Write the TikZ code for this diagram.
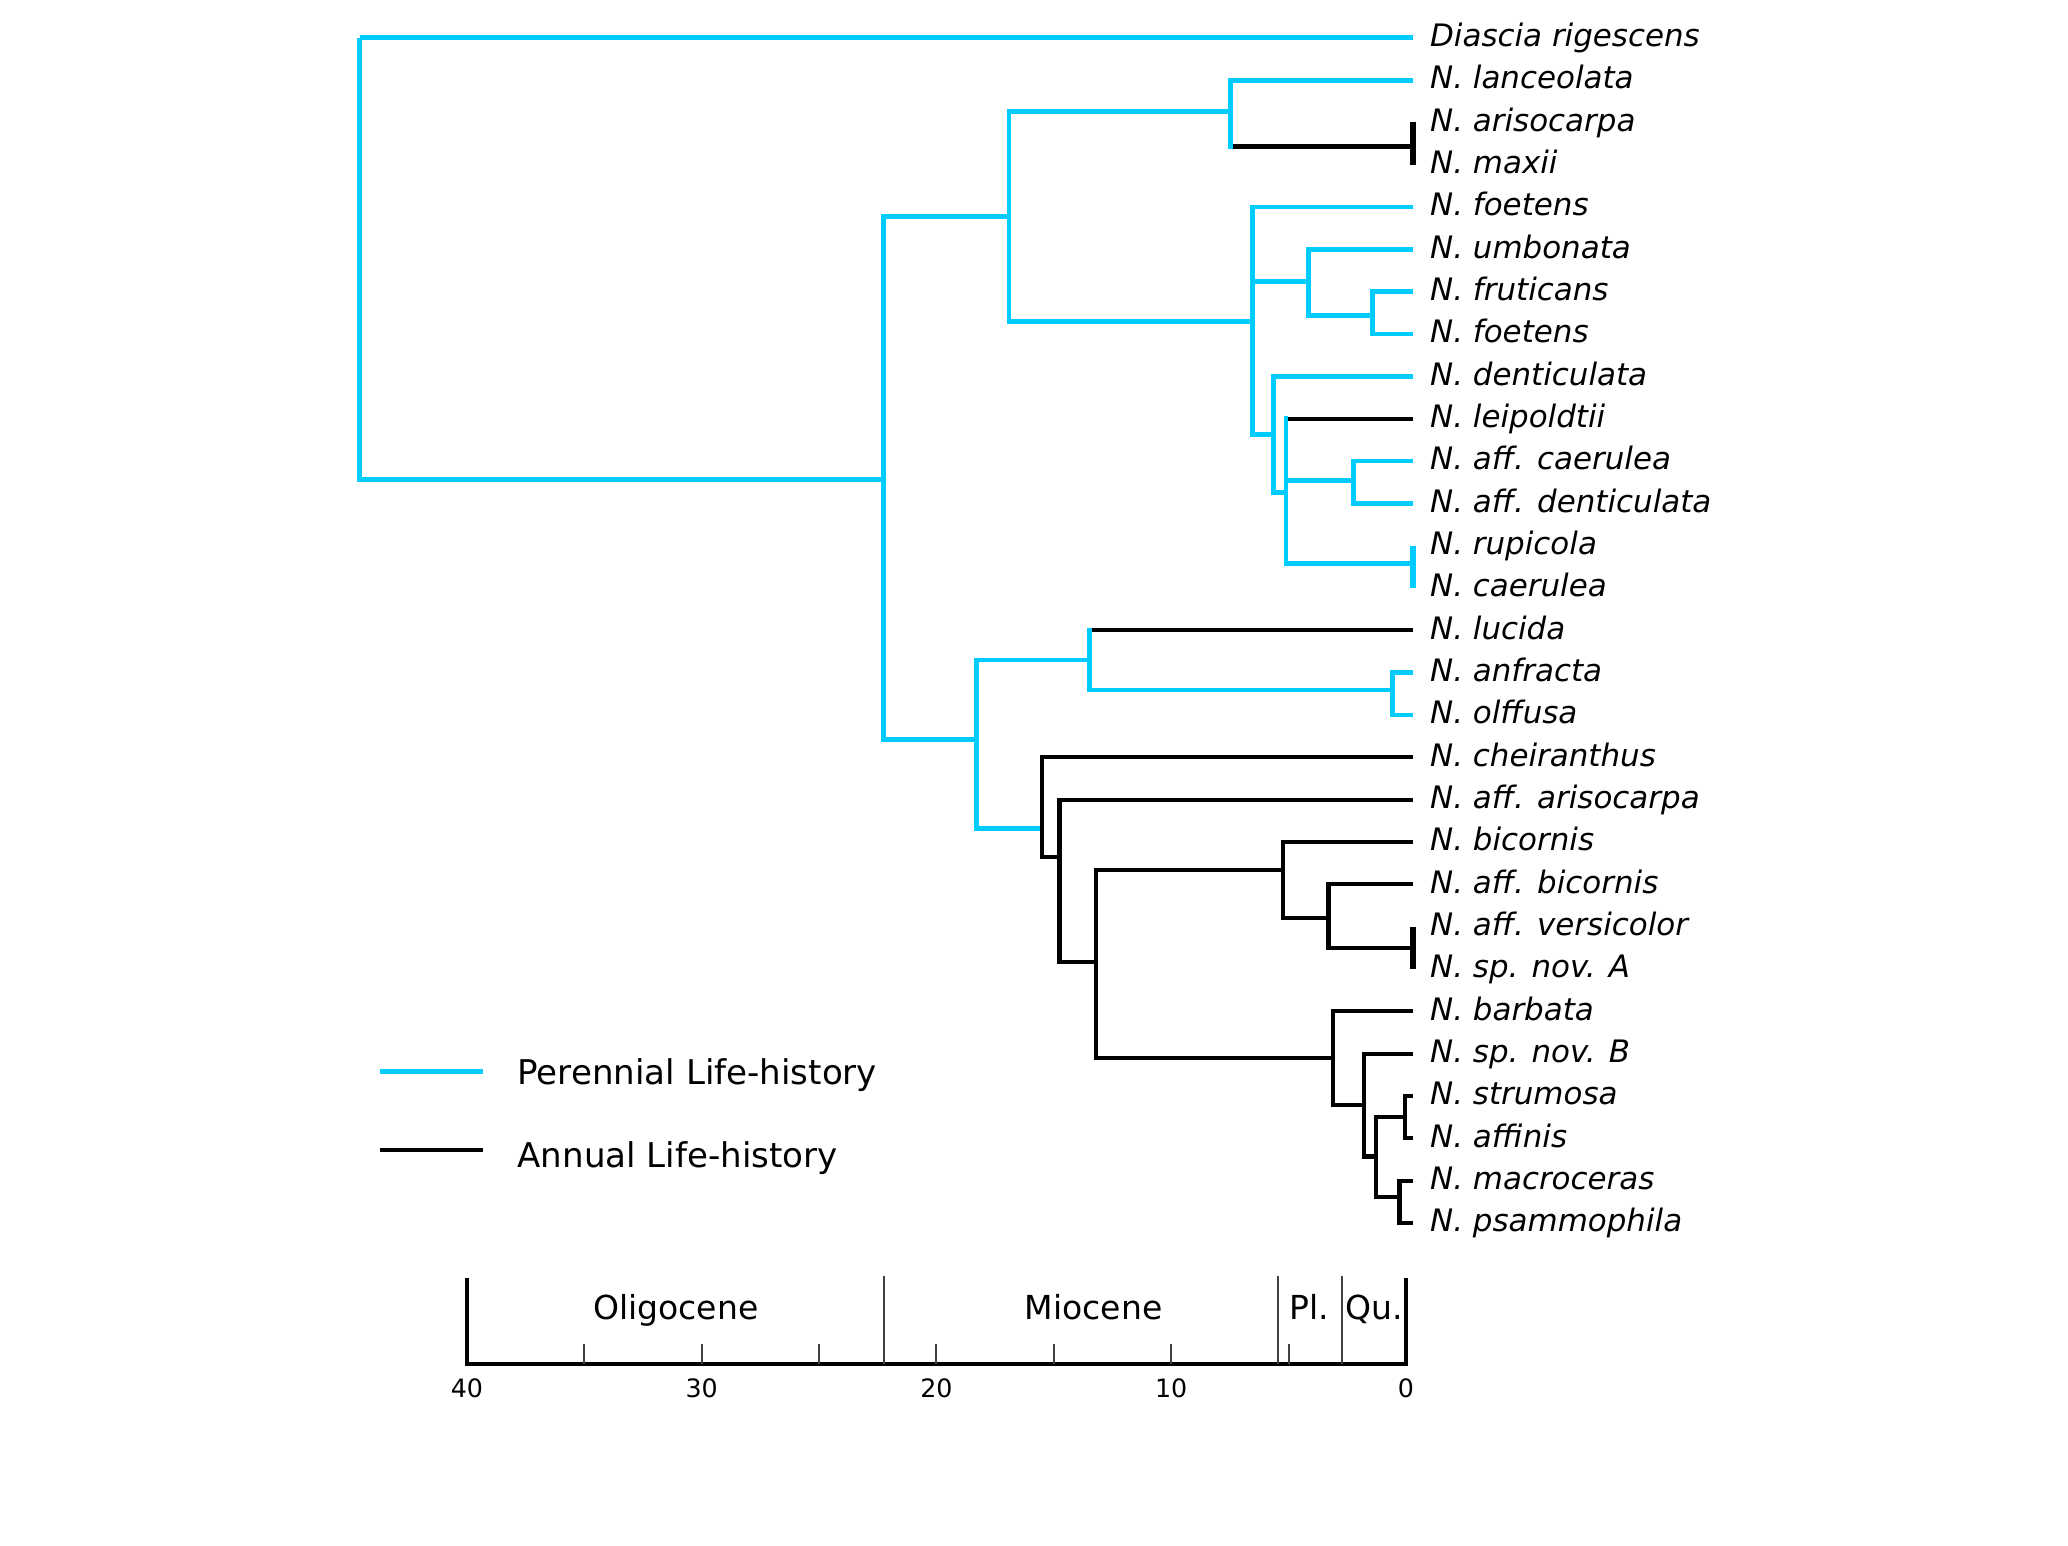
\documentclass[tikz,border=0pt]{standalone}
\usepackage{fontspec}
\setmainfont{DejaVu Sans}
\definecolor{perblue}{RGB}{0,204,255}

\begin{document}
\begin{tikzpicture}[x=0.23475cm, y=-0.4233cm,
  peren/.style={draw=perblue, line width=1.4pt},
  annual/.style={draw=black, line width=1.2pt},
  tipbar/.style={line width=1.5pt},
  taxon/.style={anchor=base west, inner sep=0pt, yshift=-2.5pt, font=\fontsize{8.8}{10}\selectfont\itshape},
  epoch/.style={anchor=base, inner sep=0pt, font=\fontsize{9.4}{11}\selectfont},
  agenum/.style={inner sep=0pt, font=\fontsize{7.2}{9}\selectfont},
  legtext/.style={anchor=base west, inner sep=0pt, font=\fontsize{9.7}{12}\selectfont},
  thinline/.style={draw=black!75, line width=0.6pt},
  axisline/.style={draw=black, line width=1.15pt}]
\useasboundingbox (-59.89,-0.891) rectangle (28.20,35.61);

% taxa (one row each, age 0 at x=0)
\node[taxon] (t0) at (1,0) {Diascia rigescens};     \coordinate (e0) at (0.3,0);
\node[taxon] (t1) at (1,1) {N. lanceolata};         \coordinate (e1) at (0.3,1);
\node[taxon] (t2) at (1,2) {N. arisocarpa};         \coordinate (e2) at (0.3,2);
\node[taxon] (t3) at (1,3) {N. maxii};              \coordinate (e3) at (0.3,3);
\node[taxon] (t4) at (1,4) {N. foetens};            \coordinate (e4) at (0.3,4);
\node[taxon] (t5) at (1,5) {N. umbonata};           \coordinate (e5) at (0.3,5);
\node[taxon] (t6) at (1,6) {N. fruticans};          \coordinate (e6) at (0.3,6);
\node[taxon] (t7) at (1,7) {N. foetens};            \coordinate (e7) at (0.3,7);
\node[taxon] (t8) at (1,8) {N. denticulata};        \coordinate (e8) at (0.3,8);
\node[taxon] (t9) at (1,9) {N. leipoldtii};         \coordinate (e9) at (0.3,9);
\node[taxon] (t10) at (1,10) {N. aff. caerulea};    \coordinate (e10) at (0.3,10);
\node[taxon] (t11) at (1,11) {N. aff. denticulata}; \coordinate (e11) at (0.3,11);
\node[taxon] (t12) at (1,12) {N. rupicola};         \coordinate (e12) at (0.3,12);
\node[taxon] (t13) at (1,13) {N. caerulea};         \coordinate (e13) at (0.3,13);
\node[taxon] (t14) at (1,14) {N. lucida};           \coordinate (e14) at (0.3,14);
\node[taxon] (t15) at (1,15) {N. anfracta};         \coordinate (e15) at (0.3,15);
\node[taxon] (t16) at (1,16) {N. olffusa};          \coordinate (e16) at (0.3,16);
\node[taxon] (t17) at (1,17) {N. cheiranthus};      \coordinate (e17) at (0.3,17);
\node[taxon] (t18) at (1,18) {N. aff. arisocarpa};  \coordinate (e18) at (0.3,18);
\node[taxon] (t19) at (1,19) {N. bicornis};         \coordinate (e19) at (0.3,19);
\node[taxon] (t20) at (1,20) {N. aff. bicornis};    \coordinate (e20) at (0.3,20);
\node[taxon] (t21) at (1,21) {N. aff. versicolor};  \coordinate (e21) at (0.3,21);
\node[taxon] (t22) at (1,22) {N. sp. nov. A};       \coordinate (e22) at (0.3,22);
\node[taxon] (t23) at (1,23) {N. barbata};          \coordinate (e23) at (0.3,23);
\node[taxon] (t24) at (1,24) {N. sp. nov. B};       \coordinate (e24) at (0.3,24);
\node[taxon] (t25) at (1,25) {N. strumosa};         \coordinate (e25) at (0.3,25);
\node[taxon] (t26) at (1,26) {N. affinis};          \coordinate (e26) at (0.3,26);
\node[taxon] (t27) at (1,27) {N. macroceras};       \coordinate (e27) at (0.3,27);
\node[taxon] (t28) at (1,28) {N. psammophila};      \coordinate (e28) at (0.3,28);

% split points (x = minus age in Ma)
\coordinate (root) at (-44.57,0);
\coordinate (ingr) at (-22.24,10.43);
\coordinate (up) at (-16.91,4.23);
\coordinate (lanc) at (-7.49,1.75);
\coordinate (ari) at (0.3,2.57);
\coordinate (foet) at (-6.53,6.71);
\coordinate (umb) at (-4.16,5.75);
\coordinate (frut) at (-1.43,6.57);
\coordinate (dent) at (-5.65,9.37);
\coordinate (leip) at (-5.11,10.75);
\coordinate (affc) at (-2.25,10.45);
\coordinate (rupi) at (0.3,12.43);
\coordinate (low) at (-18.31,16.57);
\coordinate (luc) at (-13.49,14.70);
\coordinate (anf) at (-0.56,15.41);
\coordinate (ann) at (-15.51,18.68);
\coordinate (affa) at (-14.76,19.36);
\coordinate (bicz) at (-13.21,21.83);
\coordinate (bic) at (-5.25,19.66);
\coordinate (affb) at (-3.30,20.79);
\coordinate (vers) at (0.3,21.51);
\coordinate (barb) at (-3.12,24.10);
\coordinate (spb) at (-1.78,25.21);
\coordinate (strz) at (-1.29,26.43);
\coordinate (strum) at (-0.05,25.49);
\coordinate (macro) at (-0.28,27.38);

% root and ingroup
\draw[peren] (root) -- (e0);
\draw[peren] (root) |- (ingr);
\draw[peren] (ingr) |- (up);
\draw[peren] (ingr) |- (low);
% upper (perennial) clade
\draw[peren] (up) |- (lanc);
\draw[peren] (up) |- (foet);
\draw[peren] (lanc) |- (e1);
\draw[annual] (lanc |- ari) -- (ari);
\draw[peren] (lanc) -- ([yshift=-0.7pt]lanc |- ari);
\draw[annual,tipbar] (e2) -- (e3);
\draw[peren] (foet) |- (e4);
\draw[peren] (foet) |- (umb);
\draw[peren] (foet) |- (dent);
\draw[peren] (umb) |- (e5);
\draw[peren] (umb) |- (frut);
\draw[peren] (frut) |- (e6);
\draw[peren] (frut) |- (e7);
\draw[peren] (dent) |- (e8);
\draw[peren] (dent) |- (leip);
\draw[annual] (leip |- e9) -- (e9);
\draw[peren] (leip) |- (affc);
\draw[peren] (leip) |- (rupi);
\draw[peren] (leip) -- ([yshift=0.7pt]leip |- e9);
\draw[peren] (affc) |- (e10);
\draw[peren] (affc) |- (e11);
\draw[peren,tipbar] (e12) -- (e13);
% lower clade
\draw[peren] (low) |- (luc);
\draw[peren] (low) |- (ann);
\draw[annual] (luc |- e14) -- (e14);
\draw[peren] (luc) |- (anf);
\draw[peren] (luc) -- ([yshift=0.7pt]luc |- e14);
\draw[peren] (anf) |- (e15);
\draw[peren] (anf) |- (e16);
% annual clade
\draw[annual] (ann) |- (e17);
\draw[annual] (ann) |- (affa);
\draw[annual] (affa) |- (e18);
\draw[annual] (affa) |- (bicz);
\draw[annual] (bicz) |- (bic);
\draw[annual] (bicz) |- (barb);
\draw[annual] (bic) |- (e19);
\draw[annual] (bic) |- (affb);
\draw[annual] (affb) |- (e20);
\draw[annual] (affb) |- (vers);
\draw[annual,tipbar] (e21) -- (e22);
\draw[annual] (barb) |- (e23);
\draw[annual] (barb) |- (spb);
\draw[annual] (spb) |- (e24);
\draw[annual] (spb) |- (strz);
\draw[annual] (strz) |- (strum);
\draw[annual] (strz) |- (macro);
\draw[annual] (strum) |- (e25);
\draw[annual] (strum) |- (e26);
\draw[annual] (macro) |- (e27);
\draw[annual] (macro) |- (e28);

% legend
\coordinate (kp1) at (-43.72,24.43); \coordinate (kp2) at (-39.31,24.43);
\coordinate (ka1) at (-43.72,26.28); \coordinate (ka2) at (-39.31,26.28);
\draw[peren] (kp1) -- (kp2);
\draw[annual] (ka1) -- (ka2);
\node[legtext] (kper) at (-37.87,24.74) {Perennial Life-history};
\node[legtext] (kann) at (-37.87,26.69) {Annual Life-history};

% time scale
\coordinate (s40) at (-40,31.33); \coordinate (s0) at (0,31.33);
\draw[axisline] (-40,29.30) -- (s40) -- (s0) -- (0,29.30);
\draw[thinline] (-22.23,29.25) -- (-22.23,31.33);
\draw[thinline] (-5.45,29.25) -- (-5.45,31.33);
\draw[thinline] (-2.72,29.25) -- (-2.72,31.33);
\draw[thinline] (-35,30.86) -- (-35,31.33);
\draw[thinline] (-30,30.86) -- (-30,31.33);
\draw[thinline] (-25,30.86) -- (-25,31.33);
\draw[thinline] (-20,30.86) -- (-20,31.33);
\draw[thinline] (-15,30.86) -- (-15,31.33);
\draw[thinline] (-10,30.86) -- (-10,31.33);
\draw[thinline] (-5,30.86) -- (-5,31.33);
\node[epoch] (olig) at (-31.1,30.29) {Oligocene};
\node[epoch] (mioc) at (-13.3,30.29) {Miocene};
\node[epoch] (plio) at (-4.12,30.29) {Pl.};
\node[epoch] (quat) at (-1.37,30.29) {Qu.};
\node[agenum] (a40) at (-40,31.90) {40};
\node[agenum] (a30) at (-30,31.90) {30};
\node[agenum] (a20) at (-20,31.90) {20};
\node[agenum] (a10) at (-10,31.90) {10};
\node[agenum] (a0) at (0,31.90) {0};
\end{tikzpicture}
\end{document}
